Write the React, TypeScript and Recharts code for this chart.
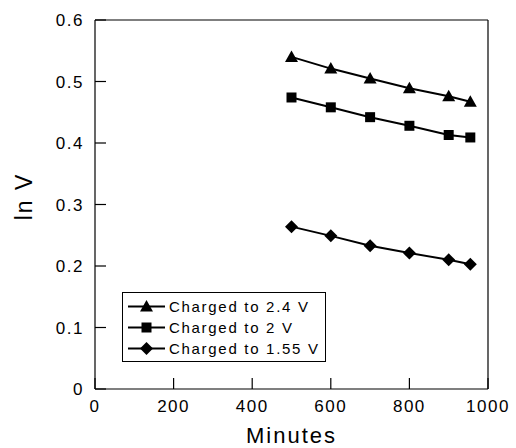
import { LineChart, Line, XAxis, YAxis, ReferenceLine, Legend, Label } from 'recharts';

const minutes = [500, 600, 700, 800, 900, 955];
const charged24 = [0.54, 0.521, 0.505, 0.489, 0.476, 0.467];
const charged2 = [0.474, 0.458, 0.442, 0.428, 0.413, 0.409];
const charged155 = [0.264, 0.249, 0.233, 0.221, 0.21, 0.203];

const xTicks = [0, 200, 400, 600, 800, 1000];
const yTicks = [0, 0.1, 0.2, 0.3, 0.4, 0.5, 0.6];

const seriesNames = ['Charged to 2.4 V', 'Charged to 2 V', 'Charged to 1.55 V'];

const data = minutes.map((m, i) => ({
  minutes: m,
  v24: charged24[i],
  v2: charged2[i],
  v155: charged155[i],
}));

const FONT = '"Liberation Sans", Arial, Helvetica, sans-serif';

type Shape = 'triangle' | 'square' | 'diamond';

function markerPath(shape: Shape, cx: number, cy: number) {
  if (shape === 'triangle') return `M${cx},${cy - 6.5}L${cx + 6.5},${cy + 5}L${cx - 6.5},${cy + 5}Z`;
  if (shape === 'square') return `M${cx - 5},${cy - 5}h10v10h-10Z`;
  return `M${cx},${cy - 6.5}L${cx + 6.5},${cy}L${cx},${cy + 6.5}L${cx - 6.5},${cy}Z`;
}

const makeDot = (shape: Shape) => (props: any) => {
  const { cx, cy, index } = props;
  if (cx == null || cy == null) return <g key={`${shape}-${index}`} />;
  return <path key={`${shape}-${index}`} d={markerPath(shape, cx, cy)} fill="#000" />;
};

const YTick = (props: any) => {
  const { x, y, payload } = props;
  return (
    <g>
      <line x1={x} x2={x + 11} y1={y} y2={y} stroke="#000" strokeWidth={1.2} />
      <text x={x - 11} y={y} dy="0.36em" textAnchor="end" fontFamily={FONT} fontSize={17} letterSpacing={1.5} fill="#000">
        {payload.value}
      </text>
    </g>
  );
};

const XTick = (props: any) => {
  const { x, y, payload } = props;
  return (
    <g>
      <line x1={x} x2={x} y1={y} y2={y - 11} stroke="#000" strokeWidth={1.2} />
      <text x={x} y={y + 23} textAnchor="middle" fontFamily={FONT} fontSize={17} letterSpacing={1.5} fill="#000">
        {payload.value}
      </text>
    </g>
  );
};

const shapes: Shape[] = ['triangle', 'square', 'diamond'];

const LegendBox = () => (
  <div style={{ border: '1px solid #000', background: '#fff', padding: '3px 0 2px 0', width: 202 }}>
    {seriesNames.map((name, i) => (
      <div key={name} style={{ display: 'flex', alignItems: 'center', height: 21 }}>
        <svg width={46} height={21} style={{ display: 'block' }}>
          <line x1={5} x2={42} y1={10.5} y2={10.5} stroke="#000" strokeWidth={2} />
          <path d={markerPath(shapes[i], 23.5, 10.5)} fill="#000" />
        </svg>
        <span style={{ fontFamily: FONT, fontSize: 15, letterSpacing: 1.7, color: '#000', lineHeight: '21px' }}>{name}</span>
      </div>
    ))}
  </div>
);

export default function App() {
  return (
    <div style={{ position: 'absolute', left: 0, top: 0, background: '#fff' }}>
      <LineChart width={516} height={448} data={data} margin={{ top: 20, right: 28, bottom: 0, left: 0 }}>
        <XAxis
          type="number"
          dataKey="minutes"
          domain={[0, 1000]}
          ticks={xTicks}
          height={59}
          tickSize={0}
          tickMargin={0}
          tickLine={false}
          tick={<XTick />}
          axisLine={{ stroke: '#000', strokeWidth: 1.2 }}
          interval={0}
        >
          <Label
            content={(p: any) => {
              const vb = p.viewBox;
              return (
                <text x={vb.x + vb.width / 2} y={vb.y + 54} textAnchor="middle" fontFamily={FONT} fontSize={22} letterSpacing={2} fill="#000">
                  Minutes
                </text>
              );
            }}
          />
        </XAxis>
        <YAxis
          type="number"
          domain={[0, 0.6]}
          ticks={yTicks}
          width={95}
          tickSize={0}
          tickMargin={0}
          tickLine={false}
          tick={<YTick />}
          axisLine={{ stroke: '#000', strokeWidth: 1.2 }}
          interval={0}
        >
          <Label
            content={(p: any) => {
              const vb = p.viewBox;
              const cx = vb.x + 32;
              const cy = vb.y + vb.height / 2 - 8;
              return (
                <text x={cx} y={cy} transform={`rotate(-90, ${cx}, ${cy})`} textAnchor="middle" fontFamily={FONT} fontSize={23} letterSpacing={2} fill="#000">
                  ln V
                </text>
              );
            }}
          />
        </YAxis>
        <ReferenceLine y={0.6} stroke="#000" strokeWidth={1.2} />
        <ReferenceLine x={1000} stroke="#000" strokeWidth={1.2} />
        <Line dataKey="v24" name={seriesNames[0]} stroke="#000" strokeWidth={2} dot={makeDot('triangle')} activeDot={false} isAnimationActive={false} />
        <Line dataKey="v2" name={seriesNames[1]} stroke="#000" strokeWidth={2} dot={makeDot('square')} activeDot={false} isAnimationActive={false} />
        <Line dataKey="v155" name={seriesNames[2]} stroke="#000" strokeWidth={2} dot={makeDot('diamond')} activeDot={false} isAnimationActive={false} />
        <Legend
          layout="vertical"
          align="center"
          verticalAlign="middle"
          content={<LegendBox />}
          wrapperStyle={{ left: 122, top: 292, width: 'auto' }}
        />
      </LineChart>
    </div>
  );
}
